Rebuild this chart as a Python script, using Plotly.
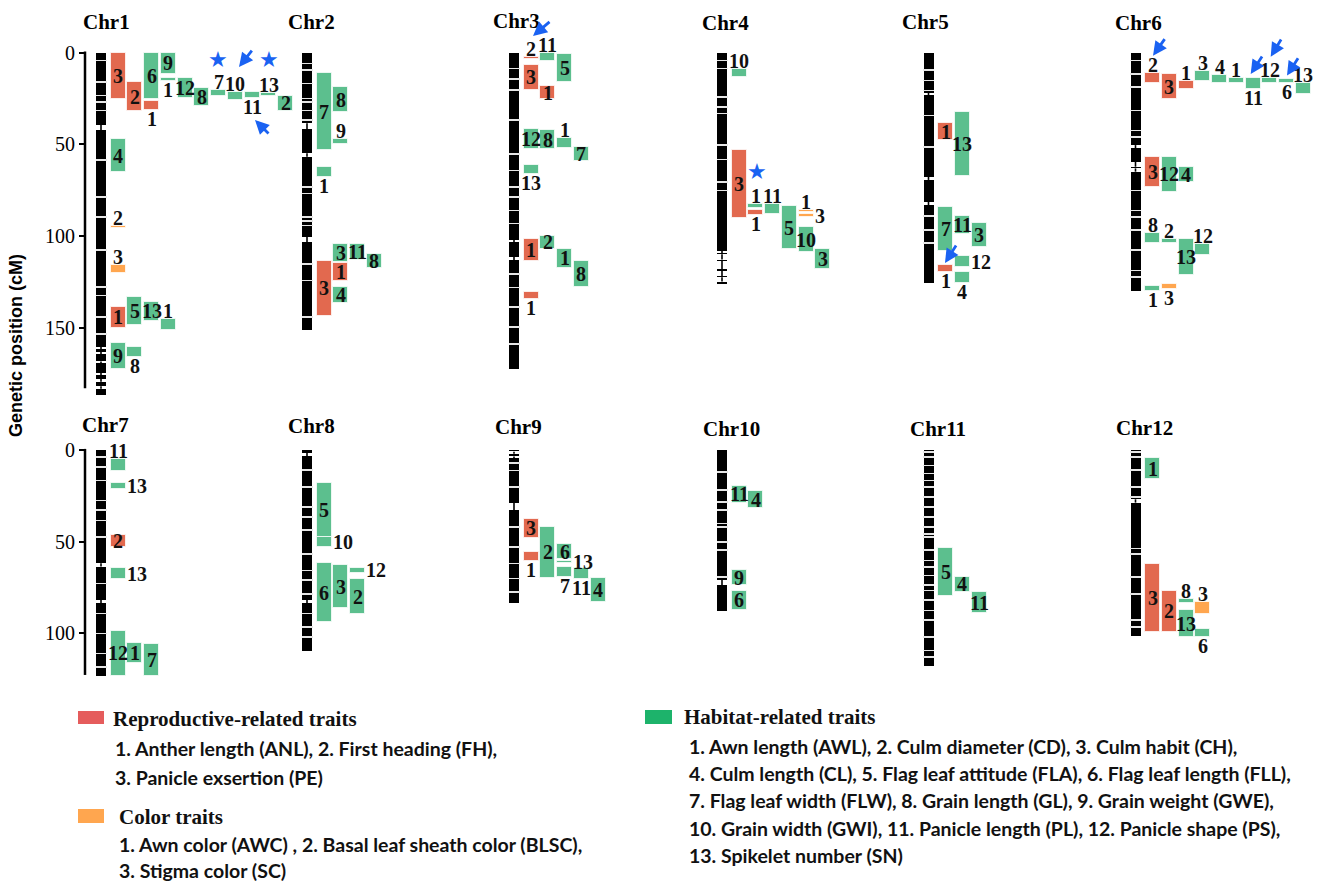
import plotly.graph_objects as go

W, H = 1343, 883

# ---------------------------------------------------------------- data
CHR_NAMES = ["Chr1", "Chr2", "Chr3", "Chr4", "Chr5", "Chr6",
             "Chr7", "Chr8", "Chr9", "Chr10", "Chr11", "Chr12"]
CHR_LENGTHS = [186.5, 151.0, 172.5, 126.0, 125.8, 130.0,
               123.5, 109.5, 83.3, 87.7, 117.6, 101.5]

# stretches without markers (start, end in cM)
CHR_GAPS = [
    [(39.5, 42.2), (160.5, 161.6), (163.2, 164.4), (168.5, 169.5), (174.5, 176.0), (178.0, 179.5), (182.0, 183.3)],
    [(38.5, 41.6), (54.9, 56.7), (100.4, 103.4)],
    [(102.2, 103.4), (111.3, 113.1)],
    [(108.2, 109.3), (110.0, 112.8), (113.5, 118.2), (119.0, 122.0), (122.5, 124.8)],
    [(21.8, 23.1), (67.6, 69.4), (81.3, 83.1)],
    [(50.4, 52.2), (59.5, 62.2), (63.1, 64.9)],
    [(61.8, 63.6), (81.8, 83.6)],
    [(1.5, 3.5), (81.8, 83.6)],
    [(1.0, 2.0), (3.5, 4.5), (28.7, 32.7)],
    [(70.9, 73.6)],
    [],
    [(26.9, 28.7)],
]
# small spacings between neighbouring markers (cM)
CHR_STRIPES = [
    [4.0, 15.8, 23.1, 26.7, 31.3, 58.5, 78.5, 89.4, 107.6, 127.6, 132.2, 144.0, 153.1],
    [5.8, 9.4, 16.7, 24.9, 26.7, 31.3, 36.7, 73.0, 76.7, 89.4, 91.5, 94.0, 115.0, 124.0, 144.0],
    [8.5, 14.0, 20.3, 36.7, 55.0, 64.0, 73.1, 78.5, 85.8, 93.0, 120.5, 127.8, 138.5, 149.5, 158.6],
    [4.0, 8.5, 24.0, 29.4, 33.0, 50.0, 58.0, 70.4, 75.0],
    [9.4, 15.0, 20.4, 34.0, 51.3, 89.0, 96.7, 103.6],
    [4.0, 11.3, 18.5, 31.3, 42.2, 45.8, 74.9, 85.8, 89.4, 96.7, 107.6, 118.6, 122.2],
    [3.6, 9.1, 16.4, 27.3, 32.7, 38.2, 47.3, 72.7, 89.1, 100.0, 110.9, 118.2],
    [10.9, 20.0, 30.9, 36.4, 43.6, 56.4, 65.5, 70.9, 78.2, 89.1, 96.4, 101.8],
    [7.0, 11.0, 20.0, 41.8, 52.7, 61.8, 70.0, 77.3],
    [11.8, 21.8, 28.2, 32.7, 40.0, 41.8, 50.0, 54.5, 69.0],
    [0.9, 3.6, 8.2, 12.7, 16.4, 20.0, 25.5, 30.9, 36.4, 41.8, 45.5, 47.3, 54.5, 60.0,
     63.6, 68.2, 73.6, 76.4, 81.8, 87.3, 92.7, 101.8, 109.1, 112.7],
    [0.9, 3.6, 10.9, 20.0, 25.5, 53.6, 56.4, 69.1, 78.2, 92.7, 96.4],
]

# QTL intervals: (trait group, trait number, start cM, end cM)
# R = reproductive-related, C = color, H = habitat-related
QTL_CHR1 = [("R", 3, 0.0, 25.0), ("R", 2, 16.0, 32.0), ("H", 6, 0.0, 25.0), ("R", 1, 26.3, 31.3),
            ("H", 9, 0.0, 11.5), ("H", 1, 13.6, 15.4), ("H", 12, 13.6, 24.5), ("H", 8, 19.5, 29.0),
            ("H", 7, 20.3, 23.6), ("H", 10, 21.6, 25.8), ("H", 11, 21.6, 24.5), ("H", 13, 22.2, 23.5),
            ("H", 2, 23.5, 31.6), ("H", 4, 47.3, 65.0), ("C", 2, 94.6, 95.4), ("C", 3, 115.8, 120.4),
            ("R", 1, 138.6, 150.0), ("H", 5, 133.0, 148.5), ("H", 13, 135.8, 146.2), ("H", 1, 145.5, 151.0),
            ("H", 9, 158.2, 172.7), ("H", 8, 160.4, 165.8)]
QTL_CHR2 = [("H", 7, 11.3, 53.1), ("H", 8, 18.9, 32.2), ("H", 9, 47.3, 50.0), ("H", 1, 62.5, 67.6),
            ("H", 3, 104.5, 114.3), ("H", 11, 104.5, 113.0), ("H", 8, 110.0, 117.6),
            ("R", 3, 113.6, 143.6), ("R", 1, 114.9, 124.4), ("H", 4, 128.0, 136.7)]
QTL_CHR3 = [("R", 2, 2.2, 3.3), ("H", 11, 0.0, 4.5), ("H", 5, 0.9, 15.8), ("R", 3, 6.7, 20.3),
            ("R", 1, 18.2, 25.4), ("H", 12, 41.8, 52.7), ("H", 8, 42.2, 52.7), ("H", 1, 46.4, 51.8),
            ("H", 7, 51.3, 58.9), ("H", 13, 61.3, 66.3), ("R", 1, 101.8, 113.5), ("H", 2, 99.8, 107.1),
            ("H", 1, 107.1, 117.3), ("H", 8, 113.5, 127.7), ("R", 1, 130.4, 134.5)]
QTL_CHR4 = [("H", 10, 8.9, 13.4), ("R", 3, 53.1, 90.0), ("H", 1, 82.7, 84.9), ("R", 1, 85.8, 88.5),
            ("H", 11, 82.7, 88.2), ("H", 5, 83.5, 107.3), ("C", 1, 85.8, 86.9), ("C", 3, 88.2, 89.5),
            ("H", 10, 94.9, 108.9), ("H", 3, 107.1, 118.0)]
QTL_CHR5 = [("R", 1, 38.5, 47.6), ("H", 13, 32.5, 67.3), ("H", 7, 84.0, 108.2), ("H", 11, 89.1, 98.9),
            ("H", 3, 92.7, 105.8), ("R", 1, 115.8, 119.8), ("H", 12, 110.7, 117.1), ("H", 4, 119.5, 125.5)]
QTL_CHR6 = [("R", 2, 11.3, 16.4), ("R", 3, 11.6, 25.4), ("R", 1, 15.4, 19.8), ("H", 3, 10.0, 15.4),
            ("H", 4, 12.2, 16.4), ("H", 1, 13.6, 16.4), ("H", 11, 13.6, 20.0), ("H", 12, 13.6, 16.4),
            ("H", 6, 14.5, 16.7), ("H", 13, 16.7, 22.5), ("R", 3, 56.7, 73.4), ("H", 12, 56.7, 75.8),
            ("H", 4, 62.5, 70.4), ("H", 8, 98.2, 103.7), ("H", 2, 101.6, 104.0), ("H", 13, 101.8, 121.3),
            ("H", 12, 104.4, 110.4), ("H", 1, 127.3, 129.8), ("C", 3, 126.2, 128.9)]
QTL_CHR7 = [("H", 11, 5.1, 11.3), ("H", 13, 17.8, 21.5), ("R", 2, 46.4, 53.1), ("H", 13, 64.5, 70.5),
            ("H", 12, 98.6, 123.3), ("H", 1, 105.5, 116.4), ("H", 7, 106.0, 123.3)]
QTL_CHR8 = [("H", 5, 18.2, 47.3), ("H", 10, 47.3, 53.1), ("H", 6, 61.8, 93.7), ("H", 3, 62.7, 86.4),
            ("H", 12, 64.5, 66.9), ("H", 2, 70.4, 89.6)]
QTL_CHR9 = [("R", 3, 37.8, 47.8), ("R", 1, 55.8, 60.4), ("H", 2, 41.8, 69.7), ("H", 6, 51.5, 59.6),
            ("H", 13, 60.5, 61.8), ("H", 7, 63.7, 69.5), ("H", 11, 64.5, 70.4), ("H", 4, 69.7, 83.1)]
QTL_CHR10 = [("H", 11, 19.6, 28.7), ("H", 4, 22.4, 31.8), ("H", 9, 65.5, 73.6), ("H", 6, 76.7, 87.3)]
QTL_CHR11 = [("H", 5, 53.3, 79.5), ("H", 4, 69.1, 77.3), ("H", 11, 77.3, 89.1)]
QTL_CHR12 = [("H", 1, 4.5, 16.0), ("R", 3, 62.2, 99.1), ("R", 2, 76.9, 99.1), ("H", 8, 81.3, 83.3),
             ("H", 13, 87.3, 102.2), ("C", 3, 83.1, 89.5), ("H", 6, 97.7, 102.2)]

QTLS = [QTL_CHR1, QTL_CHR2, QTL_CHR3, QTL_CHR4, QTL_CHR5, QTL_CHR6,
        QTL_CHR7, QTL_CHR8, QTL_CHR9, QTL_CHR10, QTL_CHR11, QTL_CHR12]

LEGEND_TITLES = ["Reproductive-related traits", "Color traits", "Habitat-related traits"]
LEGEND_REPRO = ["1. Anther length (ANL), 2. First heading (FH),",
                "3. Panicle exsertion (PE)"]
LEGEND_COLOR = ["1. Awn color (AWC) , 2. Basal leaf sheath color (BLSC),",
                "3. Stigma color (SC)"]
LEGEND_HABITAT = ["1. Awn length (AWL), 2. Culm diameter (CD), 3. Culm habit (CH),",
                  "4. Culm length (CL), 5. Flag leaf attitude (FLA), 6. Flag leaf length (FLL),",
                  "7. Flag leaf width (FLW), 8. Grain length (GL), 9. Grain weight (GWE),",
                  "10. Grain width (GWI), 11. Panicle length (PL), 12. Panicle shape (PS),",
                  "13. Spikelet number (SN)"]

# ---------------------------------------------------------------- drawing layout
# lane of each QTL beside its chromosome, and where its number is written
LANES = [
    [0, 1, 2, 2, 3, 3, 4, 5, 6, 7, 8, 9, 10, 0, 0, 0, 0, 1, 2, 3, 0, 1],
    [0, 1, 1, 0, 1, 2, 3, 0, 1, 1],
    [0, 1, 2, 0, 1, 0, 1, 2, 3, 0, 0, 1, 2, 3, 0],
    [0, 0, 1, 1, 2, 3, 4, 4, 4, 5],
    [0, 1, 0, 1, 2, 0, 1, 1],
    [0, 1, 2, 3, 4, 5, 6, 7, 8, 9, 0, 1, 2, 0, 1, 2, 3, 0, 1],
    [0, 0, 0, 0, 0, 1, 2],
    [0, 0, 0, 1, 2, 2],
    [0, 0, 1, 2, 2, 2, 3, 4],
    [0, 1, 0, 0],
    [0, 1, 2],
    [0, 0, 1, 2, 2, 3, 3],
]
LABEL_SIDE = [
    ["in", "in", "in", "below", "in", "below", "in", "in", "above", "above", "below", "above",
     "in", "in", "above", "above", "in", "in", "in", "above", "in", "below"],
    ["in", "in", "above", "below", "in", "in", "in", "in", "in", "in"],
    ["above", "above", "in", "in", "in", "in", "in", "above", "in", "below", "in", "in", "in", "in", "below"],
    ["above", "in", "above", "below", "above", "in", "above", "right", "in", "in"],
    ["in", "in", "in", "in", "in", "below", "right", "below"],
    ["above", "in", "above", "above", "above", "above", "below", "above", "below", "above",
     "in", "in", "in", "above", "above", "in", "above", "below", "below"],
    ["above", "right", "in", "right", "in", "in", "in"],
    ["in", "right", "in", "in", "right", "in"],
    ["in", "below", "in", "in", "right", "below", "below", "in"],
    ["in", "in", "in", "in"],
    ["in", "in", "in"],
    ["in", "in", "in", "above", "in", "above", "below"],
]

CHR_X = [101, 307, 514, 722, 928.5, 1135.5]       # pixel column of each chromosome in a row
ROW_ZERO = [52.7, 450.0]                          # pixel height of 0 cM
ROW_SPAN = [(0, 400), (405, 700)]                 # vertical pixel band of each row
PX_PER_CM = 1.8333
LANE_OFFSET, LANE_STEP, LANE_W, CHR_W = 17.0, 16.75, 15.0, 10.0
TITLE_POS = [(106, 22), (311, 22), (516, 21), (725, 23), (925, 22), (1138, 23),
             (105, 425), (311, 426), (518, 427), (731, 429), (938, 429), (1144, 428)]

FILL = {"R": "#E2694F", "C": "#FFA64F", "H": "#5CBF8E"}
SWATCH = {"R": "#E55C5C", "C": "#FFA64F", "H": "#1DB36B"}
BLUE = "#1A62F2"
SERIF = "Liberation Serif"

# highlighted loci: stars (row, x px, cM) and arrows (row, tip x, tip cM, tail x, tail cM)
STARS = [(0, 218, 3.6), (0, 269, 3.6), (0, 756.7, 65.0)]
ARROWS = [(0, 239, 7.8, 253, -2.0), (0, 255, 36.7, 270, 44.9), (0, 533, -9.1, 551, -17.5),
          (0, 945, 114.7, 957, 104.4), (0, 1153, 1.6, 1165.7, -8.2), (0, 1250.7, 11.6, 1263, 1.3),
          (0, 1270.7, 2.2, 1282, -8.0), (0, 1287, 12.5, 1299, 2.2)]


def px_to_cm(row, px):
    return (px - ROW_ZERO[row]) / PX_PER_CM


def axes_of(row):
    return ("x", "y") if row == 0 else ("x2", "y2")


fig = go.Figure()
annotations = []
shapes = []

for row in (0, 1):
    xa, ya = axes_of(row)
    chrs = list(range(row * 6, row * 6 + 6))

    # chromosome bodies (dense markers)
    fig.add_trace(go.Bar(
        x=[CHR_X[i % 6] for i in chrs], base=[0] * 6, y=[CHR_LENGTHS[i] for i in chrs],
        width=CHR_W, marker=dict(color="#000000", line=dict(width=0)),
        xaxis=xa, yaxis=ya, hoverinfo="skip", showlegend=False))

    # fine spacings between markers
    sx, sb, sy = [], [], []
    for i in chrs:
        for p in CHR_STRIPES[i]:
            sx.append(CHR_X[i % 6]); sb.append(p); sy.append(0.35)
    fig.add_trace(go.Bar(x=sx, base=sb, y=sy, width=CHR_W + 1,
                         marker=dict(color="#E6E6E6", line=dict(width=0)),
                         xaxis=xa, yaxis=ya, hoverinfo="skip", showlegend=False))

    # marker-free stretches with the linkage line running through
    gx, gb, gy, lx, ly = [], [], [], [], []
    for i in chrs:
        for s, e in CHR_GAPS[i]:
            gx.append(CHR_X[i % 6]); gb.append(s); gy.append(e - s)
            lx += [CHR_X[i % 6], CHR_X[i % 6], None]
            ly += [s, e, None]
    fig.add_trace(go.Bar(x=gx, base=gb, y=gy, width=CHR_W + 1,
                         marker=dict(color="#FFFFFF", line=dict(width=0)),
                         xaxis=xa, yaxis=ya, hoverinfo="skip", showlegend=False))
    fig.add_trace(go.Scatter(x=lx, y=ly, mode="lines", line=dict(color="#000000", width=1.6),
                             xaxis=xa, yaxis=ya, hoverinfo="skip", showlegend=False))

    # QTL intervals, one trace per trait group
    for grp in ("R", "C", "H"):
        qx, qb, qy = [], [], []
        for i in chrs:
            for (g, num, s, e), lane in zip(QTLS[i], LANES[i]):
                if g != grp:
                    continue
                qx.append(CHR_X[i % 6] + LANE_OFFSET + LANE_STEP * lane)
                qb.append(s); qy.append(e - s)
        fig.add_trace(go.Bar(x=qx, base=qb, y=qy, width=LANE_W,
                             marker=dict(color=FILL[grp], line=dict(color="rgba(255,255,255,0.75)", width=1)),
                             xaxis=xa, yaxis=ya, hoverinfo="skip", showlegend=False))

    # trait numbers
    for i in chrs:
        for (g, num, s, e), lane, side in zip(QTLS[i], LANES[i], LABEL_SIDE[i]):
            cx = CHR_X[i % 6] + LANE_OFFSET + LANE_STEP * lane
            ann = dict(text=f"<b>{num}</b>", xref=xa, yref=ya, showarrow=False,
                       font=dict(family=SERIF, size=20, color="#111111"))
            if side == "in":
                ann.update(x=cx, y=(s + e) / 2, xanchor="center", yanchor="middle")
            elif side == "above":
                ann.update(x=cx, y=s, xanchor="center", yanchor="bottom", yshift=-5)
            elif side == "below":
                ann.update(x=cx, y=e, xanchor="center", yanchor="top", yshift=4)
            else:
                ann.update(x=cx + LANE_W / 2, y=(s + e) / 2, xanchor="left", yanchor="middle", xshift=-1)
            annotations.append(ann)

    # chromosome names
    for i in chrs:
        tx, ty = TITLE_POS[i]
        annotations.append(dict(text=f"<b>{CHR_NAMES[i]}</b>", x=tx, y=px_to_cm(row, ty),
                                xref=xa, yref=ya, showarrow=False, xanchor="center", yanchor="middle",
                                font=dict(family=SERIF, size=21, color="#000000")))

    # vertical axis line of the row
    shapes.append(dict(type="line", xref=xa, yref=ya, x0=85, x1=85, y0=-0.6,
                       y1=183.0 if row == 0 else 122.7, line=dict(color="#000000", width=2.5)))

for row, x, cm in STARS:
    xa, ya = axes_of(row)
    annotations.append(dict(text="★", x=x, y=cm, xref=xa, yref=ya, showarrow=False,
                            font=dict(family="DejaVu Sans", size=22, color=BLUE)))

for row, tx, tcm, sx_, scm in ARROWS:
    xa, ya = axes_of(row)
    annotations.append(dict(text="", x=tx, y=tcm, ax=sx_, ay=scm, xref=xa, yref=ya,
                            axref=xa, ayref=ya, showarrow=True, arrowhead=2, arrowsize=1.0,
                            arrowwidth=2.8, arrowcolor=BLUE, standoff=0))

# axis title
annotations.append(dict(text="<b>Genetic position (cM)</b>", x=24 / W, y=1 - 346 / H,
                        xref="paper", yref="paper", showarrow=False, textangle=-90,
                        xanchor="center", yanchor="middle", xshift=-8,
                        font=dict(family="Liberation Sans", size=18, color="#000000")))

# legend blocks
def add_swatch(x0, x1, y0, y1, color):
    shapes.append(dict(type="rect", xref="paper", yref="paper", x0=x0 / W, x1=x1 / W,
                       y0=1 - y1 / H, y1=1 - y0 / H, fillcolor=color, line=dict(width=0)))


def add_text(text, x, y, family, size):
    annotations.append(dict(text=text, x=x / W, y=1 - y / H, xref="paper", yref="paper",
                            showarrow=False, xanchor="left", yanchor="middle",
                            font=dict(family=family, size=size, color="#111111")))


add_swatch(78, 104, 711, 724, SWATCH["R"])
add_text(f"<b>{LEGEND_TITLES[0]}</b>", 111, 719, SERIF, 21)
for k, line in enumerate(LEGEND_REPRO):
    add_text(f"<b>{line}</b>", 113, 748 + 29 * k, "Lato", 19.5)

add_swatch(78, 104, 809, 823, SWATCH["C"])
add_text(f"<b>{LEGEND_TITLES[1]}</b>", 117, 817, SERIF, 21)
for k, line in enumerate(LEGEND_COLOR):
    add_text(f"<b>{line}</b>", 117, 844 + 26 * k, "Lato", 19.5)

add_swatch(645, 672, 710, 724, SWATCH["H"])
add_text(f"<b>{LEGEND_TITLES[2]}</b>", 682, 717, SERIF, 21)
for k, line in enumerate(LEGEND_HABITAT):
    add_text(f"<b>{line}</b>", 687, 746.5 + 27.2 * k, "Lato", 19.5)

axis_common = dict(showgrid=False, zeroline=False, showline=False, ticks="outside",
                   ticklen=6, tickwidth=2, tickcolor="#000000", anchor="free", position=85 / W,
                   tickfont=dict(family=SERIF, size=20, color="#000000"))

fig.update_layout(
    width=W, height=H, margin=dict(l=0, r=0, t=0, b=0),
    paper_bgcolor="#FFFFFF", plot_bgcolor="rgba(0,0,0,0)",
    barmode="overlay", bargap=0, hovermode=False, showlegend=False,
    xaxis=dict(domain=[0, 1], range=[0, W], visible=False, anchor="y", fixedrange=True),
    xaxis2=dict(domain=[0, 1], range=[0, W], visible=False, anchor="y2", fixedrange=True),
    yaxis=dict(domain=[1 - ROW_SPAN[0][1] / H, 1 - ROW_SPAN[0][0] / H],
               range=[px_to_cm(0, ROW_SPAN[0][1]), px_to_cm(0, ROW_SPAN[0][0])],
               tickvals=[0, 50, 100, 150], **axis_common),
    yaxis2=dict(domain=[1 - ROW_SPAN[1][1] / H, 1 - ROW_SPAN[1][0] / H],
                range=[px_to_cm(1, ROW_SPAN[1][1]), px_to_cm(1, ROW_SPAN[1][0])],
                tickvals=[0, 50, 100], **axis_common),
    annotations=annotations, shapes=shapes,
)

fig.write_html("out.html")
